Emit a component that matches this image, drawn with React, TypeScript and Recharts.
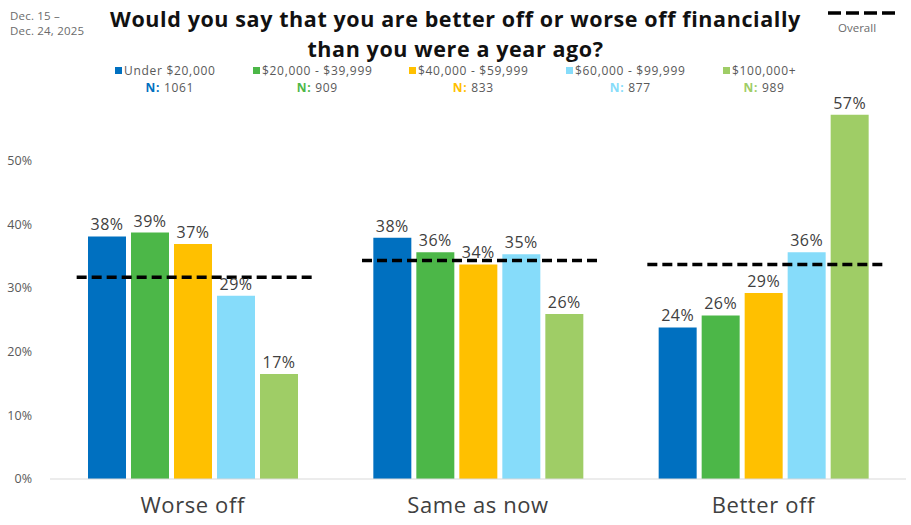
import {
  ComposedChart,
  Bar,
  Scatter,
  XAxis,
  YAxis,
  LabelList,
} from "recharts";

const categories = ["Worse off", "Same as now", "Better off"];
const groups = [
  "Under $20,000",
  "$20,000 - $39,999",
  "$40,000 - $59,999",
  "$60,000 - $99,999",
  "$100,000+",
];
const groupN = [1061, 909, 833, 877, 989];
const under20 = [38.1, 37.9, 23.8];
const from20to40 = [38.7, 35.6, 25.7];
const from40to60 = [36.9, 33.7, 29.2];
const from60to100 = [28.8, 35.3, 35.6];
const over100 = [16.5, 25.9, 57.2];
const overall = [31.7, 34.3, 33.7];
const yTicks = [0, 10, 20, 30, 40, 50];

const colors = ["#0070C0", "#4CB748", "#FFC000", "#86DCFA", "#9FCD66"];
const seriesKeys = ["g0", "g1", "g2", "g3", "g4"];
const seriesValues = [under20, from20to40, from40to60, from60to100, over100];

const data = categories.map((cat, i) => {
  const row: Record<string, string | number> = { cat, overall: overall[i] };
  seriesKeys.forEach((k, j) => (row[k] = seriesValues[j][i]));
  return row;
});

const FONT = "'Open Sans', sans-serif";

function OverallShape(props: any) {
  const { cx, cy } = props;
  if (cx == null || cy == null) return null;
  return (
    <line
      x1={cx - 116}
      x2={cx + 120}
      y1={cy}
      y2={cy}
      stroke="#000"
      strokeWidth={3.5}
      strokeDasharray="10 5"
    />
  );
}

function CatTick(props: any) {
  const { x, y, payload } = props;
  return (
    <text
      x={x}
      y={y + 26}
      textAnchor="middle"
      fill="#404040"
      fontSize={22}
      letterSpacing={0.6}
      fontFamily={FONT}
    >
      {payload.value}
    </text>
  );
}

// left edge of each legend entry's text
const legendX = [124, 262, 418, 575, 732];

export default function App() {
  return (
    <div
      style={{
        position: "absolute",
        left: 0,
        top: 0,
        width: 911,
        height: 525,
        background: "#fff",
        fontFamily: FONT,
      }}
    >
      <div
        style={{
          position: "absolute",
          left: 10,
          top: 8,
          fontSize: 11.5,
          lineHeight: "15px",
          color: "#6b6b6b",
          letterSpacing: 0.2,
        }}
      >
        Dec. 15 –<br />
        Dec. 24, 2025
      </div>
      <div
        style={{
          position: "absolute",
          left: 0,
          width: 911,
          top: 4,
          textAlign: "center",
          fontSize: 21.5,
          fontWeight: 700,
          lineHeight: "29.5px",
          letterSpacing: 0.6,
          color: "#111",
        }}
      >
        Would you say that you are better off or worse off financially
        <br />
        than you were a year ago?
      </div>
      <svg
        width={72}
        height={6}
        style={{ position: "absolute", left: 828, top: 10, display: "block" }}
      >
        <line
          x1={0}
          x2={72}
          y1={3}
          y2={3}
          stroke="#000"
          strokeWidth={3.5}
          strokeDasharray="13 5"
        />
      </svg>
      <div
        style={{
          position: "absolute",
          left: 838,
          top: 20,
          fontSize: 11.5,
          lineHeight: "15px",
          color: "#6b6b6b",
        }}
      >
        Overall
      </div>
      {groups.map((g, i) => (
        <div
          key={g}
          style={{
            position: "absolute",
            left: legendX[i] - 9,
            top: 63,
            fontSize: 12,
            lineHeight: "16.5px",
            letterSpacing: 0.7,
            color: "#595959",
            textAlign: "center",
          }}
        >
          <div style={{ whiteSpace: "nowrap" }}>
            <span
              style={{
                display: "inline-block",
                width: 7,
                height: 7,
                background: colors[i],
                marginRight: 2,
                verticalAlign: "1px",
              }}
            />
            {g}
          </div>
          <div style={{ whiteSpace: "nowrap", paddingLeft: 9 }}>
            <b style={{ color: colors[i] }}>N:</b> {groupN[i]}
          </div>
        </div>
      ))}
      <div style={{ position: "absolute", left: 0, top: 0 }}>
        <ComposedChart
          width={911}
          height={525}
          data={data}
          margin={{ top: 97, right: 5, left: 0, bottom: 6 }}
          barGap={5}
        >
          <XAxis
            dataKey="cat"
            height={40}
            tickLine={false}
            axisLine={{ stroke: "#D9D9D9" }}
            tick={<CatTick />}
            interval={0}
          />
          <YAxis
            width={50}
            domain={[0, 60]}
            ticks={yTicks}
            axisLine={false}
            tickLine={false}
            tickFormatter={(v) => `${v}%`}
            tick={{ fill: "#595959", fontSize: 12.5, fontFamily: FONT }}
            tickMargin={12}
          />
          {seriesKeys.map((k, j) => (
            <Bar
              key={k}
              dataKey={k}
              fill={colors[j]}
              barSize={38}
              isAnimationActive={false}
            >
              <LabelList
                dataKey={k}
                position="top"
                offset={6}
                formatter={(v: any) => `${Math.round(v)}%`}
                style={{
                  fill: "#404040",
                  fontSize: 16,
                  fontFamily: FONT,
                  letterSpacing: 0.5,
                }}
              />
            </Bar>
          ))}
          <Scatter
            dataKey="overall"
            shape={<OverallShape />}
            isAnimationActive={false}
          />
        </ComposedChart>
      </div>
    </div>
  );
}
